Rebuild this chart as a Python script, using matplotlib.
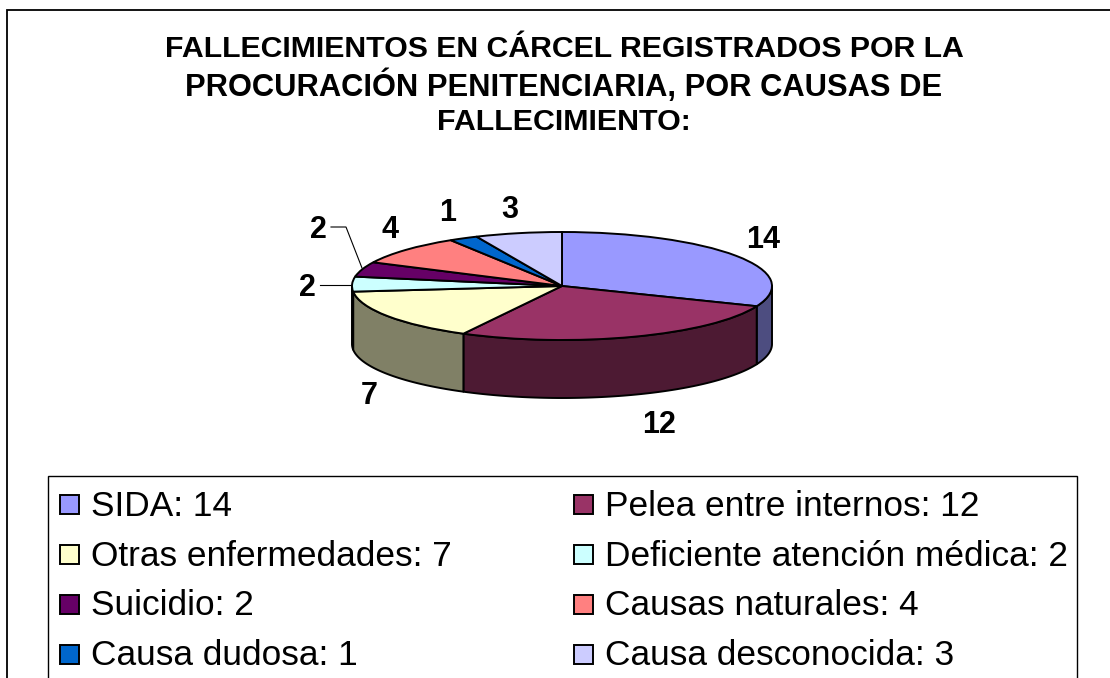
import numpy as np
import matplotlib
matplotlib.use("Agg")
import matplotlib.pyplot as plt
from matplotlib.patches import Rectangle, Polygon

categories = ["SIDA", "Pelea entre internos", "Otras enfermedades", "Deficiente atención médica",
              "Suicidio", "Causas naturales", "Causa dudosa", "Causa desconocida"]
values = [14, 12, 7, 2, 2, 4, 1, 3]
top_colors = ["#9999FF", "#993366", "#FFFFCC", "#CCFFFF", "#660066", "#FF8080", "#0066CC", "#CCCCFF"]
side_colors = ["#4D4D80", "#4D1A33", "#808066", "#668080", "#330033", "#804040", "#003366", "#666680"]
title_lines = ["FALLECIMIENTOS EN CÁRCEL REGISTRADOS POR LA",
               "PROCURACIÓN PENITENCIARIA, POR CAUSAS DE",
               "FALLECIMIENTO:"]

W, H = 1110, 678
plt.rcParams['font.family'] = ['Liberation Sans', 'DejaVu Sans']
fig = plt.figure(figsize=(W/100, H/100), dpi=100)
bg = fig.add_axes([0, 0, 1, 1])
bg.set_xlim(0, W); bg.set_ylim(H, 0); bg.axis('off')
bg.add_patch(Rectangle((7, 10), 1120, 700, fc='white', ec='black', lw=1.3))
for line, y, fs in zip(title_lines, [49, 86.5, 122], [21.8, 22.2, 21.9]):
    bg.text(564, y, line, ha='center', va='center', fontsize=fs, fontweight='bold')

# pie axes: unit circle mapped onto the ellipse
cx, cy, rx, ry, depth = 562, 286, 210, 54, 58
pie = fig.add_axes([(cx-rx)/W, 1-(cy+ry)/H, 2*rx/W, 2*ry/H])
pie.set_xlim(-1, 1); pie.set_ylim(-1, 1)
pie.axis('off'); pie.patch.set_alpha(0)
d = depth/ry
fr = np.cumsum([0]+values)/sum(values)*2*np.pi
for i in range(len(values)):
    lo2, hi2 = max(fr[i], np.pi/2), min(fr[i+1], 3*np.pi/2)
    if hi2 > lo2:
        t = np.linspace(lo2, hi2, 80)
        xs, ys = np.sin(t), np.cos(t)
        poly = np.r_[np.c_[xs, ys], np.c_[xs[::-1], ys[::-1]-d]]
        pie.add_patch(Polygon(poly, closed=True, fc=side_colors[i], ec='black', lw=1.4, clip_on=False, joinstyle='round'))
wedges, _ = pie.pie(values, colors=top_colors, startangle=90, counterclock=False, radius=1,
                    wedgeprops=dict(edgecolor='black', linewidth=1.4, clip_on=False))
pie.set_aspect('auto')
pie.set_xlim(-1, 1); pie.set_ylim(-1, 1)

# data labels
lab_pos = [(763, 240), (659, 425), (369, 396), (307, 288), (318, 230), (390, 230), (448, 213), (510, 210)]
for v, (x, y) in zip(values, lab_pos):
    bg.text(x, y, str(v), ha='center', va='center', fontsize=22, fontweight='bold')
bg.plot([320, 352], [285, 285], color='black', lw=0.8, zorder=5)
bg.plot([331, 346, 362], [227, 227, 268], color='black', lw=0.8, zorder=5)

# legend
bg.add_patch(Rectangle((48, 476), 1029, 260, fc='white', ec='black', lw=1))
rows = [505, 555, 605, 655]
text_rows = [506, 556.5, 605.5, 655.5]
cols = [60, 574]
for i, (c, v) in enumerate(zip(categories, values)):
    col, row = i % 2, i // 2
    bg.add_patch(Rectangle((cols[col], rows[row]-10), 19, 19, fc=top_colors[i], ec='black', lw=1.4))
    bg.text(cols[col]+31, text_rows[row], f"{c}: {v}", ha='left', va='center', fontsize=25.4)
fig.savefig('out.png', dpi=100)
